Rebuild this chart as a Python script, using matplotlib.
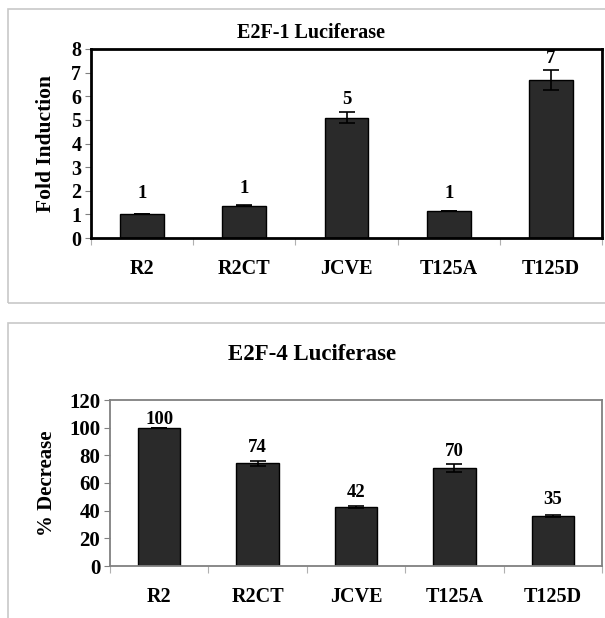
import matplotlib
matplotlib.use("Agg")
import matplotlib.pyplot as plt
from matplotlib.patches import Rectangle
import numpy as np

plt.rcParams['font.family'] = ['Liberation Serif', 'DejaVu Serif']
plt.rcParams['font.weight'] = 'bold'

constructs = ['R2', 'R2CT', 'JCVE', 'T125A', 'T125D']

# E2F-1 luciferase, fold induction
e2f1_values = [1.0, 1.37, 5.1, 1.14, 6.69]
e2f1_errors = [0.0, 0.03, 0.22, 0.0, 0.42]
e2f1_labels = ['1', '1', '5', '1', '7']

# E2F-4 luciferase, % decrease
e2f4_values = [100, 74.2, 42.4, 70.8, 36.1]
e2f4_errors = [0.0, 1.6, 0.7, 2.7, 0.6]
e2f4_labels = ['100', '74', '42', '70', '35']

W, H = 605, 618
fig = plt.figure(figsize=(W / 100, H / 100), dpi=100)


def px_axes(left, top, right, bottom):
    return fig.add_axes([left / W, 1 - bottom / H, (right - left) / W, (bottom - top) / H])


def outer_box(left, top, right, bottom):
    fig.patches.append(Rectangle((left / W, 1 - bottom / H), (right - left) / W, (bottom - top) / H,
                                 transform=fig.transFigure, fill=False,
                                 edgecolor='#c8c8c8', linewidth=1.2))


def draw_panel(ax, values, errors, labels, ymax, ystep, spine_color, spine_lw,
               offsets, tick_size, cat_size):
    x = np.arange(len(constructs))
    ax.bar(x, values, width=0.43, color='#2a2a2a', edgecolor='black', linewidth=1.0, zorder=2)
    ax.errorbar(x, values, yerr=errors, fmt='none', ecolor='black', elinewidth=1.2,
                capsize=6, capthick=1.2, zorder=3)
    for xi, v, e, lab, off in zip(x, values, errors, labels, offsets):
        ax.annotate(lab, (xi, v + e), xytext=(0, off), textcoords='offset points',
                    ha='center', va='center', fontsize=13.5, fontweight='bold')
    ax.set_xlim(-0.5, len(constructs) - 0.5)
    ax.set_ylim(0, ymax)
    ax.set_yticks(np.arange(0, ymax + ystep / 2, ystep))
    ax.set_xticks(x)
    ax.set_xticklabels(constructs, fontsize=cat_size, fontweight='bold')
    ax.set_xticks(np.arange(-0.5, len(constructs)), minor=True)
    ax.tick_params(axis='x', which='major', length=0, pad=15)
    ax.tick_params(axis='x', which='minor', length=5, color='#b0b0b0', width=0.8)
    ax.tick_params(axis='y', length=4, color='#808080', labelsize=tick_size, pad=3)
    for lab in ax.get_yticklabels():
        lab.set_fontweight('bold')
    for s in ax.spines.values():
        s.set_color(spine_color)
        s.set_linewidth(spine_lw)


outer_box(8, 9, 612, 303)
outer_box(8, 323, 612, 630)

ax1 = px_axes(91, 49, 602, 238)
draw_panel(ax1, e2f1_values, e2f1_errors, e2f1_labels, 8, 1, 'black', 2.0,
           [15, 12, 9, 13, 8], 14.5, 14.5)
ax1.set_ylabel('Fold Induction', fontsize=15.5, fontweight='bold', labelpad=11)
fig.text(311 / W, 1 - 33 / H, 'E2F-1 Luciferase', ha='center', va='center',
         fontsize=14.5, fontweight='bold')

ax2 = px_axes(110, 400, 602, 566)
draw_panel(ax2, e2f4_values, e2f4_errors, e2f4_labels, 120, 20, '#808080', 1.3,
           [6, 10, 10, 9, 11], 15, 14.5)
ax2.set_ylabel('% Decrease', fontsize=15, fontweight='bold', labelpad=9)
fig.text(312 / W, 1 - 355 / H, 'E2F-4 Luciferase', ha='center', va='center',
         fontsize=16.5, fontweight='bold')

fig.savefig('out.png', dpi=100)
